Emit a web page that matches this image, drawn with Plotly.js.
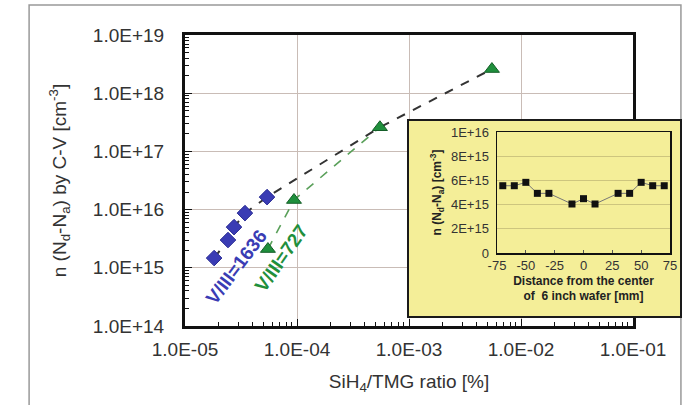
<!DOCTYPE html>
<html>
<head>
<meta charset="utf-8">
<script src="https://cdn.plot.ly/plotly-3.0.1.min.js"></script>
<style>
  html, body { margin:0; padding:0; background:#fff; }
  #wrap { position:relative; width:688px; height:405px; overflow:hidden; }
  #main { position:absolute; left:0; top:0; width:688px; height:405px; }
  #inset { position:absolute; left:407px; top:119px; width:275px; height:199px;
           border:2px solid #1a1a1a; box-sizing:border-box; background:#f4ee98; }
</style>
</head>
<body>
<div id="wrap">
  <div id="main"></div>
  <div id="inset"></div>
</div>
<script>
// ---- main chart data ----
var blueX  = [1.82e-5, 2.42e-5, 2.74e-5, 3.43e-5, 5.4e-5];
var blueY  = [1.47e15, 3.0e15, 5.0e15, 8.7e15, 1.64e16];
var greenX = [5.5e-5, 9.4e-5, 5.5e-4, 5.5e-3];
var greenY = [2.1e15, 1.46e16, 2.6e17, 2.6e18];
var yTickVals = [1e14, 1e15, 1e16, 1e17, 1e18, 1e19];
var yTickText = ["1.0E+14", "1.0E+15", "1.0E+16", "1.0E+17", "1.0E+18", "1.0E+19"];
var xTickVals = [1e-5, 1e-4, 1e-3, 1e-2, 1e-1];
var xTickText = ["1.0E-05", "1.0E-04", "1.0E-03", "1.0E-02", "1.0E-01"];
var blueLabel = "V/III=1636";
var greenLabel = "V/III=727";

// ---- inset data ----
var insetX = [-70, -60, -50, -40, -30, -10, 0, 10, 30, 40, 50, 60, 70];
var insetY = [5.56e15, 5.56e15, 5.84e15, 4.93e15, 4.93e15, 4.05e15, 4.49e15, 4.05e15, 4.93e15, 4.93e15, 5.84e15, 5.56e15, 5.56e15];
var insetYTickVals = [0, 2e15, 4e15, 6e15, 8e15, 1e16];
var insetYTickText = ["0", "2E+15", "4E+15", "6E+15", "8E+15", "1E+16"];
var insetXTickVals = [-75, -50, -25, 0, 25, 50, 75];
var insetXTickText = ["-75", "-50", "-25", "0", "25", "50", "75"];

var FONT = "Arial, 'Liberation Sans', sans-serif";
var BLUE = "#3a3cb4";
var GREEN = "#1f8f3c";

var blackLineX = blueX.concat(greenX.slice(2));
var blackLineY = blueY.concat(greenY.slice(2));
var greenLineX = greenX.slice(0, 3);
var greenLineY = greenY.slice(0, 3);

var mainTraces = [
  { x: blackLineX, y: blackLineY, mode: "lines", type: "scatter",
    line: { color: "#333", width: 2, dash: "dash" }, hoverinfo: "skip" },
  { x: greenLineX, y: greenLineY, mode: "lines", type: "scatter",
    line: { color: "#5aa05a", width: 1.6, dash: "dash" }, hoverinfo: "skip" },
  { x: blueX, y: blueY, mode: "markers", type: "scatter",
    marker: { symbol: "diamond", size: 12, color: BLUE, line: { color: "#2a2c94", width: 1 } } },
  { x: greenX, y: greenY, mode: "markers", type: "scatter",
    marker: { symbol: "triangle-up", size: 13, color: GREEN, line: { color: "#145e28", width: 1 } } }
];

var mainLayout = {
  width: 688, height: 405,
  margin: { l: 185, r: 55, t: 35, b: 79 },
  paper_bgcolor: "rgba(0,0,0,0)", plot_bgcolor: "#fff",
  showlegend: false,
  font: { family: FONT, color: "#333" },
  xaxis: {
    type: "log", range: [-5, -1], automargin: false,
    tickmode: "array", tickvals: xTickVals, ticktext: xTickText,
    tickfont: { size: 19, color: "#333" },
    ticks: "inside", ticklen: 7, tickcolor: "#111", tickwidth: 1,
    ticklabelstandoff: 4,
    minor: { dtick: "D1", ticks: "inside", ticklen: 4, tickcolor: "#111", showgrid: false },
    showgrid: true, gridcolor: "#c9bcb6", gridwidth: 1,
    showline: true, linecolor: "#111", linewidth: 3, mirror: true,
    zeroline: false,
    title: { text: "SiH<sub>4</sub>/TMG ratio [%]", font: { size: 19, color: "#333" }, standoff: 16 }
  },
  yaxis: {
    type: "log", range: [14, 19], automargin: false,
    tickmode: "array", tickvals: yTickVals, ticktext: yTickText,
    tickfont: { size: 19, color: "#333" },
    ticks: "inside", ticklen: 7, tickcolor: "#111", tickwidth: 1,
    ticklabelstandoff: 14,
    minor: { dtick: "D1", ticks: "inside", ticklen: 4, tickcolor: "#111", showgrid: false },
    showgrid: true, gridcolor: "#c9bcb6", gridwidth: 1,
    showline: true, linecolor: "#111", linewidth: 3, mirror: true,
    zeroline: false,
    title: { text: "n (N<sub>d</sub>-N<sub>a</sub>) by C-V [cm<sup>-3</sup>]", font: { size: 19, color: "#333" }, standoff: 22 }
  },
  annotations: [
    { xref: "paper", yref: "paper", x: 0.116, y: 0.203, xanchor: "center", yanchor: "middle",
      text: "<b>" + blueLabel + "</b>",
      showarrow: false, textangle: -53, font: { size: 19, color: BLUE, family: FONT } },
    { xref: "paper", yref: "paper", x: 0.2165, y: 0.234, xanchor: "center", yanchor: "middle",
      text: "<b>" + greenLabel + "</b>",
      showarrow: false, textangle: -55, font: { size: 19, color: GREEN, family: FONT } }
  ],
  shapes: [
    { type: "rect", xref: "paper", yref: "paper", x0: -0.348, x1: 1.107, y0: -0.4, y1: 1.103,
      line: { color: "#999", width: 1.5 }, fillcolor: "rgba(0,0,0,0)", layer: "below" }
  ]
};

Plotly.newPlot("main", mainTraces, mainLayout, { staticPlot: true, displayModeBar: false });

var insetTraces = [
  { x: insetX, y: insetY, mode: "lines+markers", type: "scatter",
    line: { color: "#777", width: 1 },
    marker: { symbol: "square", size: 7, color: "#111" } }
];

var insetLayout = {
  width: 271, height: 195, autosize: false,
  margin: { l: 88, r: 10, t: 11, b: 63 },
  paper_bgcolor: "#f4ee98", plot_bgcolor: "#f4ee98",
  showlegend: false,
  font: { family: FONT, color: "#333", size: 13 },
  xaxis: {
    range: [-75, 75], automargin: false,
    tickmode: "array", tickvals: insetXTickVals, ticktext: insetXTickText,
    tickfont: { size: 13, color: "#333" },
    ticks: "inside", ticklen: 3, tickcolor: "#555",
    showgrid: false, zeroline: false,
    showline: true, linecolor: "#111", linewidth: 1.5, mirror: true,
    title: { text: "<b>Distance from the center<br>of  6 inch wafer [mm]</b>", font: { size: 12, color: "#222" }, standoff: 4 }
  },
  yaxis: {
    range: [0, 1e16], automargin: false,
    tickmode: "array", tickvals: insetYTickVals, ticktext: insetYTickText,
    tickfont: { size: 13, color: "#333" },
    ticks: "", ticklabelstandoff: 4,
    showgrid: true, gridcolor: "#cdc57e", gridwidth: 1,
    zeroline: false,
    showline: true, linecolor: "#111", linewidth: 1.5, mirror: true,
    title: { text: "<b>n (N<sub>d</sub>-N<sub>a</sub>) [cm<sup>-3</sup>]</b>", font: { size: 12, color: "#222" }, standoff: 6 }
  }
};

Plotly.newPlot("inset", insetTraces, insetLayout, { staticPlot: true, displayModeBar: false });
</script>
</body>
</html>
